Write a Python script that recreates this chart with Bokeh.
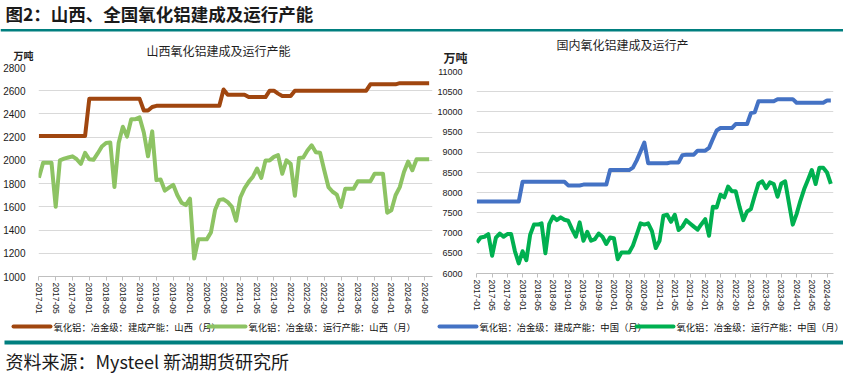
from bokeh.plotting import figure
from bokeh.models import Range1d, FixedTicker
from bokeh.layouts import column, row
from bokeh.embed import file_html
from bokeh.resources import INLINE
from bokeh.core.properties import value

# ---------------- data ----------------
years = [2017, 2018, 2019, 2020, 2021, 2022, 2023, 2024]
months = [f"{y}-{m:02d}" for y in years for m in range(1, 13)][:94]   # 2017-01 .. 2024-10
tick_idx = list(range(0, 93, 4))
tick_labels = [months[i] for i in tick_idx]

# 氧化铝：冶金级：建成产能：山西（月）
sx_built = ([2210] * 12 + [2530] * 13 + [2430] * 2 + [2460] + [2470] * 16 + [2610]
            + [2565] * 5 + [2545] * 5 + [2600] * 2 + [2575] + [2555] * 3 + [2600] * 18
            + [2655] * 7 + [2665] * 8)
# 氧化铝：冶金级：运行产能：山西（月）
sx_run = [1850, 1980, 1980, 1980, 1600, 2000, 2015, 2025, 2035, 2010, 1970, 2065, 2010, 2005,
          2060, 2120, 2150, 2155, 1770, 2150, 2290, 2205, 2355, 2355, 2370, 2240, 2035, 2250,
          1830, 1835, 1740, 1765, 1790, 1700, 1635, 1615, 1670, 1155, 1320, 1320, 1320, 1380,
          1575, 1660, 1665, 1640, 1600, 1480, 1680,
          1760, 1815, 1860, 1930, 1850, 2000, 2000, 2030, 2045, 1885, 2000, 1970, 1695, 2020,
          2025, 2085, 2130, 2070, 2065, 1915, 1770, 1730, 1705, 1600, 1755, 1755, 1755, 1820,
          1820, 1820, 1820, 1885, 1885, 1885, 1550, 1570, 1700, 1770, 1900, 1990, 1915, 2010,
          2010, 2010, 2010]
# 氧化铝：冶金级：建成产能：中国（月）
cn_built = ([7780] * 12 + [8270] * 12 + [8180] * 4 + [8200] * 7 + [8560] * 6
            + [8620, 8800, 9020, 9240] + [8730] * 6 + [8750] * 3 + [8930] + [8940] * 3
            + [9040] * 3 + [9110, 9330, 9540] + [9600] * 4 + [9700] * 4 + [9970, 9990]
            + [10265] * 5 + [10315] * 5 + [10225] * 8 + [10280] * 2)
# 氧化铝：冶金级：运行产能：中国（月）
cn_run = [6770, 6890, 6910, 6975, 6440, 6890, 6990, 6910, 6975, 6975, 6550, 6250, 6550, 6330,
          6960, 7210, 7210, 7240, 6500, 7220, 7410, 7320, 7390, 7330, 7305, 7100, 6910, 7265,
          6810, 7030, 6810, 6850, 6990, 6910, 6730, 6890, 6875, 6355, 6520, 6520, 6520, 6690,
          6960, 7240, 7210, 7240,
          7050, 6630, 6810, 7430, 7455, 7280, 7455, 7075, 7160, 7320, 7240, 7160, 7085, 7220,
          7345, 6935, 7650, 7635, 7950, 7885, 8150, 8035, 8035, 7655, 7320, 7535, 7595, 7925,
          8230, 8280, 8110, 8255, 8215, 7900, 8230, 8280, 7740, 7210, 7470, 7800, 8090, 8320,
          8560, 8215, 8620, 8620, 8500, 8220]

x = list(range(len(months)))

sx_yticks = list(range(1000, 2801, 200))
cn_yticks = list(range(6000, 11001, 500))

main_title = "图2：山西、全国氧化铝建成及运行产能"
left_title = "山西氧化铝建成及运行产能"
right_title = "国内氧化铝建成及运行产"
unit = "万吨"
source_text = "资料来源：Mysteel 新湖期货研究所"
labels_sx = ["氧化铝：冶金级：建成产能：山西（月）", "氧化铝：冶金级：运行产能：山西（月）"]
labels_cn = ["氧化铝：冶金级：建成产能：中国（月）", "氧化铝：冶金级：运行产能：中国（月）"]

colors_sx = ["#A0460F", "#8DC363"]
colors_cn = ["#4472C4", "#00B050"]

CJK = "Noto Sans CJK SC"
NUM = "Liberation Sans"
TEAL = "#007F7F"
TXT = "#1f1f1f"


def strip(w, h):
    s = figure(width=w, height=h, x_range=Range1d(0, w), y_range=Range1d(0, h),
               output_backend="svg", toolbar_location=None, min_border=0,
               x_axis_type=None, y_axis_type=None, title=None)
    s.outline_line_color = None
    s.grid.visible = False
    s.frame_align = False
    return s


def chart(w, h, xr, yr, yticks, series, colors, mb_left, mb_right, mb_top, mb_bottom,
          ylab_size, ylab_standoff):
    p = figure(width=w, height=h, x_range=Range1d(*xr), y_range=Range1d(*yr),
               output_backend="svg", toolbar_location=None, title=None,
               min_border_left=mb_left, min_border_right=mb_right,
               min_border_top=mb_top, min_border_bottom=mb_bottom)
    p.frame_align = False
    p.outline_line_color = None
    p.xgrid.visible = False
    p.ygrid.grid_line_color = "#D9D9D9"
    p.ygrid.grid_line_width = 1

    p.yaxis.ticker = FixedTicker(ticks=yticks)
    p.yaxis.axis_line_color = None
    p.yaxis.major_tick_line_color = None
    p.yaxis.minor_tick_line_color = None
    p.yaxis.major_label_text_font = NUM
    p.yaxis.major_label_text_font_size = ylab_size
    p.yaxis.major_label_text_color = "#1a1a1a"
    p.yaxis.major_label_standoff = ylab_standoff

    p.xaxis.ticker = FixedTicker(ticks=tick_idx)
    p.xaxis.major_label_overrides = {i: lab for i, lab in zip(tick_idx, tick_labels)}
    p.xaxis.major_label_orientation = "vertical"
    p.xaxis.axis_line_color = "#BFBFBF"
    p.xaxis.major_tick_line_color = "#BFBFBF"
    p.xaxis.major_tick_in = 0
    p.xaxis.major_tick_out = 4
    p.xaxis.minor_tick_line_color = None
    p.xaxis.major_label_text_font = NUM
    p.xaxis.major_label_text_font_size = "8.5px"
    p.xaxis.major_label_text_color = "#1a1a1a"
    p.xaxis.major_label_standoff = 2

    for ys, c in zip(series, colors):
        p.line(x, ys, line_color=c, line_width=4, line_join="round")
    return p


def title_strip(w, h, title, tx, ty, ux, uy, usize):
    s = strip(w, h)
    s.text(x=[tx], y=[ty], text=[title], text_font=value(CJK), text_font_size="12px",
           text_baseline="middle", text_align="center", text_color=TXT)
    s.text(x=[ux], y=[uy], text=[unit], text_font=value(CJK), text_font_size=usize,
           text_font_style="bold", text_baseline="middle", text_align="left", text_color=TXT)
    return s


def legend_strip(w, h, labels, colors, starts, y0):
    s = strip(w, h)
    for lab, c, x0 in zip(labels, colors, starts):
        s.segment(x0=[x0], y0=[y0], x1=[x0 + 37], y1=[y0], line_color=c, line_width=4,
                  line_cap="round")
        s.text(x=[x0 + 40], y=[y0], text=[lab], text_font=value(CJK), text_font_size="9.3px",
               text_baseline="middle", text_align="left", text_color="#111111")
    return s


# ---- left column (x 0-434) ----
lt = title_strip(434, 28, left_title, 218, 12, 13, 7.5, "10px")
lc = chart(434, 254, (-0.1, 93.8), (1000, 2800), sx_yticks, [sx_built, sx_run], colors_sx,
           37, 2, 5, 39, "10px", 7)
ll = legend_strip(434, 22, labels_sx, colors_sx, [13, 208], 12)

# ---- right column (x 434-843) ----
rt = title_strip(409, 32, right_title, 188, 22, 9, 9, "12px")
rc = chart(409, 250, (-0.1, 93.7), (6000, 11000), cn_yticks, [cn_built, cn_run], colors_cn,
           40, 10, 5, 43, "9px", 8)
rl = legend_strip(409, 22, labels_cn, colors_cn, [5, 202], 12)

# ---- header ----
hdr = strip(843, 34)
hdr.text(x=[5], y=[21], text=[main_title], text_font=value(CJK), text_font_size="17.5px",
         text_font_style="bold", text_baseline="middle", text_align="left", text_color="#1a1a1a")
hdr.quad(left=[0], right=[843], bottom=[3], top=[5.5], fill_color=TEAL, line_color=None)

# ---- footer ----
ftr = strip(843, 36)
ftr.quad(left=[4], right=[843], bottom=[30], top=[34], fill_color=TEAL, line_color=None)
ftr.text(x=[5], y=[14], text=[source_text], text_font=value(CJK), text_font_size="18px",
         text_baseline="middle", text_align="left", text_color="#1a1a1a")

layout = column(hdr, row(column(lt, lc, ll), column(rt, rc, rl)), ftr)
open("out.html", "w").write(file_html(layout, INLINE))
